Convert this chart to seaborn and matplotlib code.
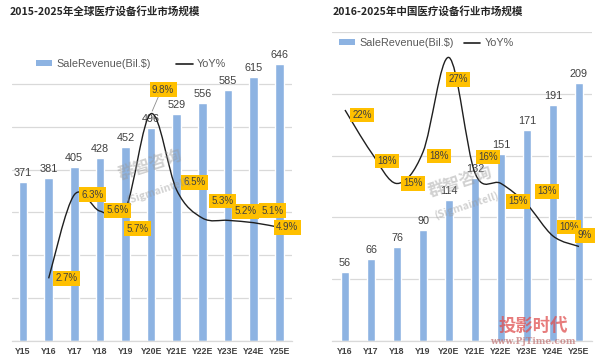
import numpy as np
import pandas as pd
import matplotlib
matplotlib.use("Agg")
import matplotlib.pyplot as plt
from matplotlib.path import Path
from matplotlib.patches import PathPatch, Patch
from matplotlib.lines import Line2D
import seaborn as sns

# ---------------- data ----------------
title_left = "2015-2025年全球医疗设备行业市场规模"
title_right = "2016-2025年中国医疗设备行业市场规模"

cats_left = ["Y15", "Y16", "Y17", "Y18", "Y19", "Y20E", "Y21E", "Y22E", "Y23E", "Y24E", "Y25E"]
revenue_left = [371, 381, 405, 428, 452, 496, 529, 556, 585, 615, 646]
yoy_cats_left = ["Y16", "Y17", "Y18", "Y19", "Y20E", "Y21E", "Y22E", "Y23E", "Y24E", "Y25E"]
yoy_left = [2.7, 6.3, 5.6, 5.7, 9.8, 6.5, 5.3, 5.2, 5.1, 4.9]
yoy_labels_left = ["2.7%", "6.3%", "5.6%", "5.7%", "9.8%", "6.5%", "5.3%", "5.2%", "5.1%", "4.9%"]

cats_right = ["Y16", "Y17", "Y18", "Y19", "Y20E", "Y21E", "Y22E", "Y23E", "Y24E", "Y25E"]
revenue_right = [56, 66, 76, 90, 114, 132, 151, 171, 191, 209]
yoy_right = [22, 18, 15, 18, 27, 16, 15, 13, 10, 9]
yoy_labels_right = ["22%", "18%", "15%", "18%", "27%", "16%", "15%", "13%", "10%", "9%"]

legend_bar = "SaleRevenue(Bil.$)"
legend_line = "YoY%"

# label offsets (pixels) for the YoY boxes -- styling only
off_left = [(18, 0), (18, 0), (18, 1), (12, -20), (12, 24), (18, 8), (20, 17), (18, 9), (19, 12), (8, 0)]
off_right = [(17, -5), (16, -9), (16, 0), (16, -4), (9, -22), (13, 16), (17, -18), (20, 13), (16, 9), (6, 11)]

BAR = "#8DB3E2"
GRID = "#D9D9D9"
GOLD = "#FFC000"
TXT = "#404040"

sns.set_theme(style="white")
plt.rcParams["font.family"] = ["Liberation Sans", "Noto Sans CJK SC", "DejaVu Sans"]

fig = plt.figure(figsize=(6, 3.64), dpi=100)
W, H = 600, 364


def smooth_path(xs, ys):
    xs = np.asarray(xs, float)
    ys = np.asarray(ys, float)
    n = len(xs)
    verts = [(xs[0], ys[0])]
    codes = [Path.MOVETO]
    for i in range(n - 1):
        p0 = (xs[max(i - 1, 0)], ys[max(i - 1, 0)])
        p1 = (xs[i], ys[i])
        p2 = (xs[i + 1], ys[i + 1])
        p3 = (xs[min(i + 2, n - 1)], ys[min(i + 2, n - 1)])
        c1 = (p1[0] + (p2[0] - p0[0]) / 6, p1[1] + (p2[1] - p0[1]) / 6)
        c2 = (p2[0] - (p3[0] - p1[0]) / 6, p2[1] - (p3[1] - p1[1]) / 6)
        verts += [c1, c2, p2]
        codes += [Path.CURVE4] * 3
    return Path(verts, codes)


def panel(rect, cats, rev, ycats, yoy, ylabels, offs, xlim, ylim, yticks, y2top,
          title, title_x, leg_anchor, colspace):
    ax = fig.add_axes(rect)
    df = pd.DataFrame({"cat": cats, "rev": rev})
    sns.barplot(data=df, x="cat", y="rev", ax=ax, color=BAR, width=0.34,
                saturation=1, zorder=2)
    ax.set_xlim(*xlim)
    ax.set_ylim(*ylim)
    ax.set_yticks(yticks)
    ax.set_yticklabels([])
    ax.yaxis.grid(True, color=GRID, lw=0.9, zorder=0)
    ax.set_axisbelow(True)
    for s in ["left", "right", "top"]:
        ax.spines[s].set_visible(False)
    ax.spines["bottom"].set_color(GRID)
    ax.spines["bottom"].set_linewidth(0.9)
    ax.set_xlabel("")
    ax.set_ylabel("")
    ax.tick_params(axis="x", length=0, pad=4, labelsize=6.3, labelcolor=TXT)
    ax.tick_params(axis="y", length=0)
    for lab in ax.get_xticklabels():
        lab.set_fontweight("bold")
    for i, v in enumerate(rev):
        ax.annotate(str(v), (i, v), xytext=(0, 9), textcoords="offset pixels",
                    ha="center", va="center", fontsize=7.8, color=TXT, zorder=3)

    ax2 = ax.twinx()
    ax2.set_ylim(0, y2top)
    ax2.set_xlim(*xlim)
    ax2.axis("off")
    xpos = [cats.index(c) for c in ycats]
    ax2.add_patch(PathPatch(smooth_path(xpos, yoy), fill=False,
                            edgecolor="#1f1f1f", lw=1.0, zorder=4))
    for x, v, t, (dx, dy) in zip(xpos, yoy, ylabels, offs):
        ax2.annotate(t, (x, v), xytext=(dx, dy), textcoords="offset pixels",
                     ha="center", va="center", fontsize=7, color=TXT, zorder=6,
                     bbox=dict(boxstyle="square,pad=0.25", fc=GOLD, ec="none"))

    fig.text(title_x / W, 1 - 11 / H, title, ha="left", va="center",
             fontsize=7.6, fontweight="bold", color="#262626",
             family=["Noto Sans CJK SC", "DejaVu Sans"])

    handles = [Patch(facecolor=BAR, edgecolor="none"),
               Line2D([0], [0], color="#1f1f1f", lw=1.2)]
    fig.legend(handles, [legend_bar, legend_line], loc="center left",
               bbox_to_anchor=(leg_anchor[0] / W, 1 - leg_anchor[1] / H),
               bbox_transform=fig.transFigure, ncol=2, frameon=False,
               fontsize=7.8, labelcolor="#595959", handlelength=1.5,
               handleheight=0.4, handletextpad=0.35, columnspacing=colspace,
               borderpad=0, borderaxespad=0)
    return ax, ax2


axL, axL2 = panel([12 / W, 23 / H, 280 / W, 300 / H], cats_left, revenue_left,
                  yoy_cats_left, yoy_left, yoy_labels_left, off_left,
                  (-0.43, 10.5), (0, 700), np.arange(0, 700, 100), 300 / 23.2,
                  title_left, 10, (36, 64), 2.4)

axR, axR2 = panel([332 / W, 23 / H, 260 / W, 309 / H], cats_right, revenue_right,
                  cats_right, yoy_right, yoy_labels_right, off_right,
                  (-0.5, 9.5), (0, 250), np.arange(0, 251, 50), 309 / 10.5,
                  title_right, 333, (339, 43), 1.0)

# leader line for the 9.8% label
axL2.annotate("", xy=(5, 9.8), xytext=(5.35, 10.7),
              arrowprops=dict(arrowstyle="-", color="#8c8c8c", lw=0.6), zorder=5)

# watermarks
wm = dict(color="#9a9a9a", alpha=0.45, ha="center", va="center", rotation=18,
          family=["Noto Sans CJK SC", "DejaVu Sans"], fontweight="bold")
fig.text(150 / W, 1 - 165 / H, "群智咨询", fontsize=12, **wm)
fig.text(158 / W, 1 - 190 / H, "(Sigmaintell)", fontsize=7.5, **wm)
fig.text(460 / W, 1 - 182 / H, "群智咨询", fontsize=12, **wm)
fig.text(466 / W, 1 - 205 / H, "(Sigmaintell)", fontsize=7.5, **wm)
fig.text(533 / W, 1 - 326 / H, "投影时代", fontsize=12.5, color="#e05050", alpha=0.75,
         ha="center", va="center", fontweight="bold",
         family=["Noto Sans CJK SC", "DejaVu Sans"])
fig.text(533 / W, 1 - 341 / H, "www.PjTime.com", fontsize=6.5, color="#c07070", alpha=0.7,
         ha="center", va="center", fontweight="bold", family=["DejaVu Serif"])

fig.savefig("out.png", dpi=100)
